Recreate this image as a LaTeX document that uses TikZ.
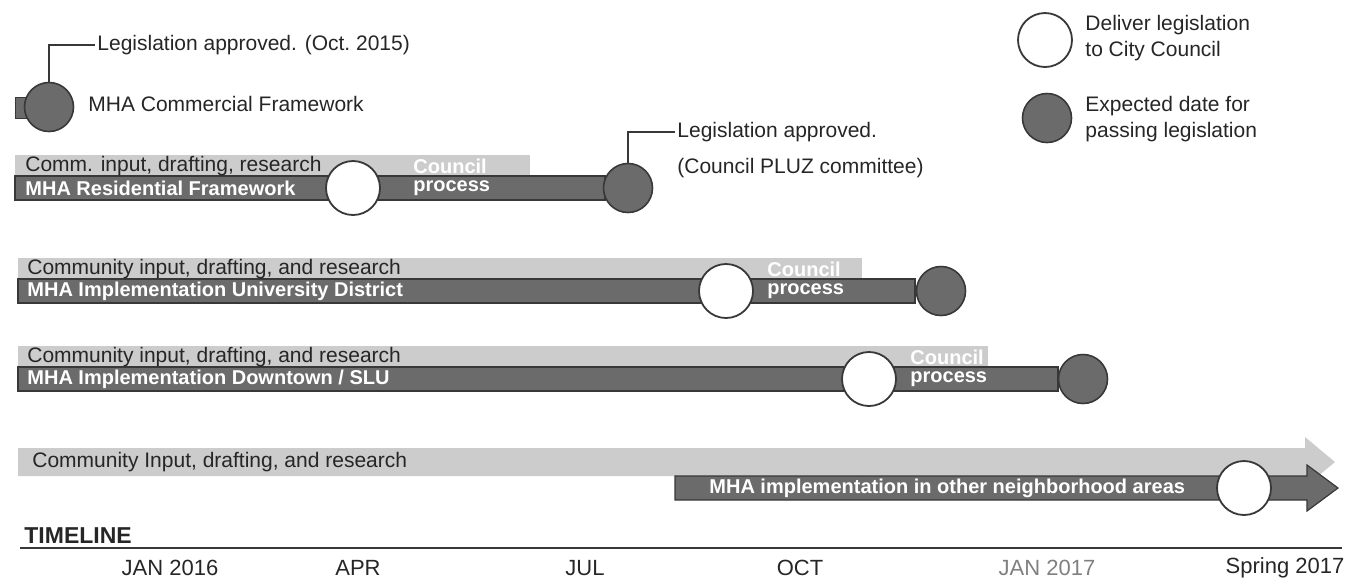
\documentclass[tikz,border=0pt]{standalone}
\usepackage{fontspec}
\setmainfont{Liberation Sans}
\definecolor{lightbar}{gray}{0.80}
\definecolor{darkbar}{gray}{0.42}
\definecolor{darkline}{gray}{0.22}
\definecolor{inkgray}{gray}{0.15}
\begin{document}
\begin{tikzpicture}[x=0.5pt,y=-0.5pt,
  lbl/.style={anchor=west,inner sep=0pt,text=inkgray,font=\fontsize{10.5}{13}\selectfont},
  barlbl/.style={anchor=west,inner sep=0pt,text=white,font=\fontsize{10}{12}\selectfont\bfseries},
  openpt/.style={circle,draw=darkline,fill=white,line width=0.9pt,minimum size=27pt,inner sep=0pt},
  passpt/.style={circle,draw=darkline,fill=darkbar,line width=0.8pt,minimum size=24.5pt,inner sep=0pt},
  month/.style={inner sep=0pt,text=inkgray,font=\fontsize{11}{13}\selectfont}]
\useasboundingbox (0,0) rectangle (1360,586);
% key
\node[openpt] (keyopen) at (1045,40) {};
\node[lbl,align=left] (keyopentxt) at (1085,38) {Deliver legislation\\to City Council};
\node[passpt] (keypass) at (1047,118) {};
\node[lbl,align=left] (keypasstxt) at (1085,119) {Expected date for\\passing legislation};
% commercial
\filldraw[darkbar,draw=darkline] (15,97) rectangle (30,118);
\node[passpt] (comm) at (49,107) {};
\node[lbl] (commtxt) at (88,104) {MHA Commercial Framework};
\node[lbl] (commok) at (97,45) {Legislation approved. (Oct.\ 2015)};
\draw[darkline,line width=0.8pt] (comm.north) |- ([xshift=-1pt]commok.west);
% residential
\fill[lightbar] (15,155) rectangle (530,176);
\filldraw[darkbar,draw=darkline,line width=0.6pt] (15,176) rectangle (605,200);
\node[lbl] (resin) at (25,166) {Comm. input, drafting, research};
\node[barlbl] (resname) at (25,188) {MHA Residential Framework};
\node[barlbl] (rescouncil) at (413,166) {Council};
\node[barlbl] (resproc) at (413,188) {process};
\node[openpt] (resdeliver) at (353,188) {};
\node[passpt] (respass) at (628,188) {};
\node[lbl] (pluz) at (677,132) {Legislation approved.};
\node[lbl] (pluzcom) at (677,168) {(Council PLUZ committee)};
\draw[darkline,line width=0.8pt] (respass.north) |- ([xshift=-1pt]pluz.west);
% university district
\fill[lightbar] (18,258) rectangle (862,279);
\filldraw[darkbar,draw=darkline,line width=0.6pt] (18,279) rectangle (915,303);
\node[lbl] (udin) at (27,269) {Community input, drafting, and research};
\node[barlbl] (udname) at (27,291) {MHA Implementation University District};
\node[barlbl] (udcouncil) at (767,269) {Council};
\node[barlbl] (udproc) at (767,291) {process};
\node[openpt] (uddeliver) at (726,291) {};
\node[passpt] (udpass) at (941,291) {};
% downtown
\fill[lightbar] (18,346) rectangle (988,367);
\filldraw[darkbar,draw=darkline,line width=0.6pt] (18,367) rectangle (1058,391);
\node[lbl] (dtin) at (27,357) {Community input, drafting, and research};
\node[barlbl] (dtname) at (27,379) {MHA Implementation Downtown / SLU};
\node[barlbl] (dtcouncil) at (910,357) {Council};
\node[barlbl] (dtproc) at (910,379) {process};
\node[openpt] (dtdeliver) at (869,379) {};
\node[passpt] (dtpass) at (1083,379) {};
% other neighborhoods
\fill[lightbar] (18,448) -- (1305,448) -- (1305,437) -- (1335,462) -- (1305,487) -- (1305,476) -- (18,476) -- cycle;
\filldraw[darkbar,draw=darkline,line width=0.6pt] (675,476) -- (1307,476) -- (1307,465) -- (1338,488) -- (1307,511) -- (1307,500) -- (675,500) -- cycle;
\node[lbl] (onin) at (32,462) {Community Input, drafting, and research};
\node[barlbl] (onname) at (709,488) {MHA implementation in other neighborhood areas};
\node[openpt] (ondeliver) at (1244,488) {};
% timeline
\coordinate (tstart) at (20,548);
\coordinate (tend) at (1342,548);
\draw[darkline,line width=0.8pt] (tstart) -- (tend);
\node[anchor=south west,inner sep=0pt,text=inkgray,font=\fontsize{11.5}{13}\selectfont\bfseries] (tltitle) at (24,544) {TIMELINE};
\node[month] (jan16) at (170,568) {JAN 2016};
\node[month] (apr) at (358,568) {APR};
\node[month] (jul) at (585,568) {JUL};
\node[month] (oct) at (800,568) {OCT};
\node[month,text=gray] (jan17) at (1047,568) {JAN 2017};
\node[month] (spring) at (1285,568) {Spring 2017};
\end{tikzpicture}
\end{document}
